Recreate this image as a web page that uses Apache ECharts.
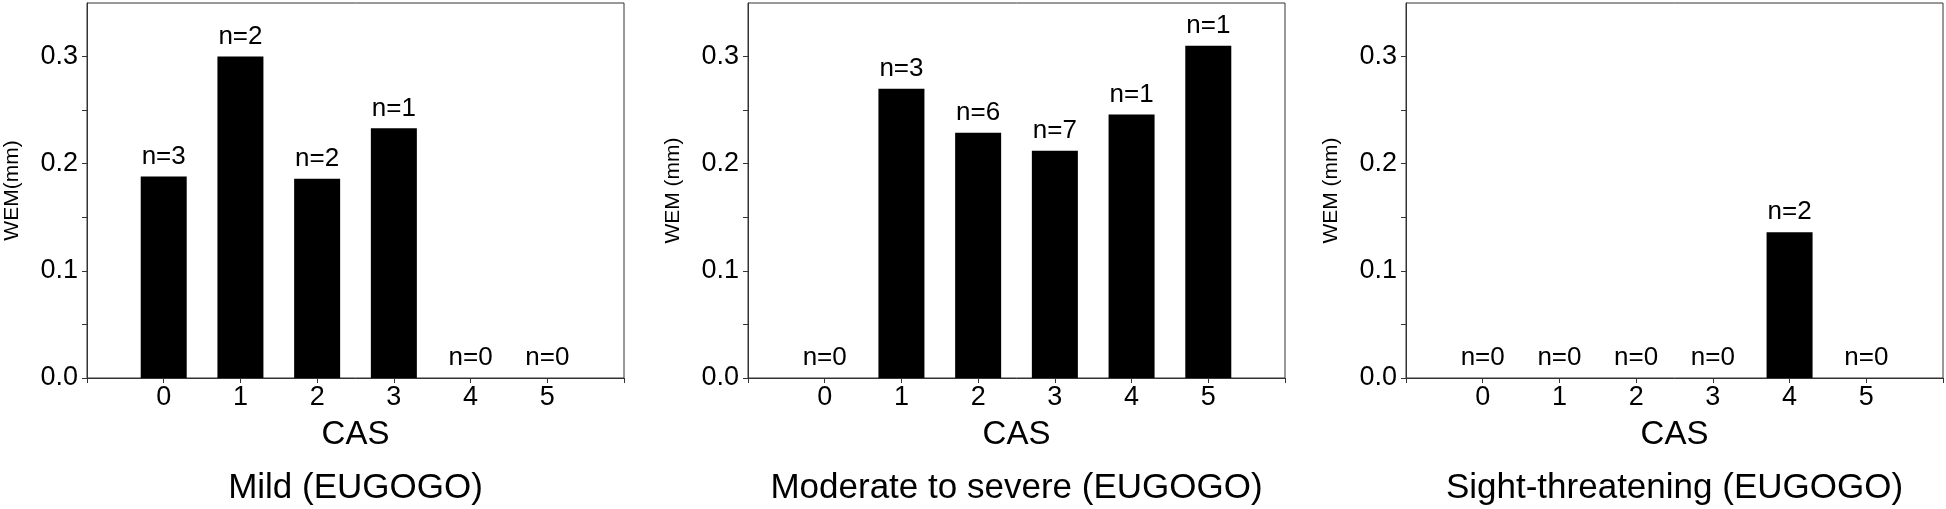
<!DOCTYPE html>
<html><head><meta charset="utf-8">
<script src="https://cdn.jsdelivr.net/npm/echarts@6/dist/echarts.min.js"></script>
<style>html,body{margin:0;padding:0;background:#fff}#c{width:1946px;height:509px}</style>
</head><body><div id="c"></div>
<script>
const casCategories = [0, 1, 2, 3, 4, 5];
const mildWEM = [0.188, 0.300, 0.186, 0.233, 0, 0];
const mildN = [3, 2, 2, 1, 0, 0];
const moderateWEM = [0, 0.270, 0.229, 0.212, 0.246, 0.310];
const moderateN = [0, 3, 6, 7, 1, 1];
const sightWEM = [0, 0, 0, 0, 0.136, 0];
const sightN = [0, 0, 0, 0, 2, 0];
const yTickLabels = [0, 0.1, 0.2, 0.3];
const yTicks = [0, 0.05, 0.1, 0.15, 0.2, 0.25, 0.3];
const panelTitles = ['Mild (EUGOGO)', 'Moderate to severe (EUGOGO)', 'Sight-threatening (EUGOGO)'];
const yAxisNames = ['WEM(mm)', 'WEM (mm)', 'WEM (mm)'];
const xAxisName = 'CAS';

const FONT = 'Liberation Sans, Arial, sans-serif';
const panels = [
  { wem: mildWEM, n: mildN },
  { wem: moderateWEM, n: moderateN },
  { wem: sightWEM, n: sightN }
];
const gridLefts = [87, 748, 1406];
const gridW = 537, gridTop = 3, gridH = 375;
const lineColor = '#333';

const chart = echarts.init(document.getElementById('c'), null, { renderer: 'canvas' });
const grids = [], xAxes = [], yAxes = [], series = [], graphics = [];
panels.forEach((p, i) => {
  grids.push({ left: gridLefts[i], top: gridTop, width: gridW, height: gridH, show: true,
    borderColor: lineColor, borderWidth: 1, backgroundColor: 'transparent', containLabel: false });
  xAxes.push({
    gridIndex: i, type: 'value', min: -1, max: 6, interval: 1,
    name: xAxisName, nameLocation: 'middle', nameGap: 40,
    nameTextStyle: { fontSize: 33, color: '#000', fontFamily: FONT },
    axisLine: { show: true, onZero: false, lineStyle: { color: lineColor, width: 1 } },
    axisTick: { show: true, length: 5, inside: false, lineStyle: { color: lineColor } },
    axisLabel: { show: true, fontSize: 27, color: '#000', fontFamily: FONT, margin: 6,
      customValues: casCategories,
      formatter: v => (v < 0 || v > 5) ? '' : String(v) },
    splitLine: { show: false }
  });
  yAxes.push({
    gridIndex: i, type: 'value', min: 0, max: 0.35, interval: 0.05,
    name: yAxisNames[i], nameLocation: 'middle', nameGap: 64,
    nameTextStyle: { fontSize: 21, color: '#000', fontFamily: FONT },
    axisLine: { show: true, onZero: false, lineStyle: { color: lineColor, width: 1 } },
    axisTick: { show: true, length: 5, inside: false, customValues: yTicks, lineStyle: { color: lineColor } },
    axisLabel: { show: true, fontSize: 27, color: '#000', fontFamily: FONT, margin: 9,
      customValues: yTickLabels,
      formatter: v => (Math.abs(v * 10 - Math.round(v * 10)) > 1e-6) ? '' : v.toFixed(1) },
    splitLine: { show: false }
  });
  series.push({
    type: 'bar', xAxisIndex: i, yAxisIndex: i, barWidth: 46,
    data: casCategories.map((c, k) => [c, p.wem[k]]),
    itemStyle: { color: '#000' },
    label: { show: true, position: 'top', distance: 7, fontSize: 26, color: '#000', fontFamily: FONT,
      formatter: prm => 'n=' + p.n[prm.dataIndex] },
    animation: false
  });
  graphics.push({
    type: 'text', x: gridLefts[i] + gridW / 2, y: 471,
    style: { text: panelTitles[i], font: '35px ' + FONT, fill: '#000',
      textAlign: 'center', textVerticalAlign: 'top', align: 'center', verticalAlign: 'top' }
  });
});

chart.setOption({
  animation: false,
  backgroundColor: '#fff',
  grid: grids, xAxis: xAxes, yAxis: yAxes, series: series, graphic: graphics
});
</script></body></html>
